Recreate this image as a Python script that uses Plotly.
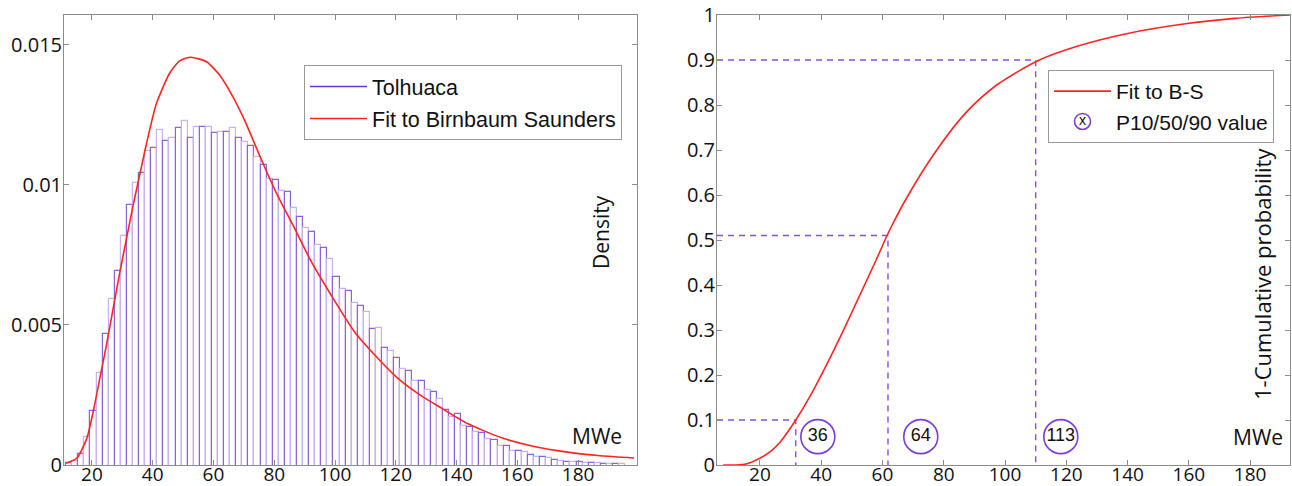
import numpy as np
import plotly.graph_objects as go

# ---------------- data ----------------
bin_width = 2.0
first_bin_center = 12.5
hist_density = [
    0.00006, 0.00014, 0.00038, 0.00099, 0.00194, 0.0033, 0.00468, 0.00592, 0.00693, 0.00818,
    0.00929, 0.01006, 0.01042, 0.01121, 0.01131, 0.01196, 0.01157, 0.01167, 0.01205, 0.0123,
    0.01167, 0.01208, 0.01208, 0.01208, 0.01185, 0.01188, 0.01188, 0.01205, 0.01167, 0.01155,
    0.0114, 0.01099, 0.01071, 0.01021, 0.01018, 0.00979, 0.00976, 0.00917, 0.00887, 0.00845,
    0.00831, 0.00786, 0.00774, 0.00736, 0.0067, 0.00629, 0.00623, 0.00577, 0.00569, 0.00548,
    0.00486, 0.0049, 0.00419, 0.00407, 0.00383, 0.00343, 0.00336, 0.003, 0.003, 0.00268,
    0.0026, 0.00237, 0.00196, 0.0017, 0.00182, 0.0014, 0.00137, 0.00118, 0.00113, 0.00092,
    0.00089, 0.00069, 0.00068, 0.00051, 0.00051, 0.00048, 0.00036, 0.0003, 0.00027, 0.00024,
    0.00018, 0.00015, 0.00012, 0.00011, 0.0001, 0.00008, 0.00007, 0.00006, 0.00005, 0.00004,
    0.00004, 0.00003,
]
bin_centers = first_bin_center + bin_width * np.arange(len(hist_density))

fit_pdf_x = [11.5, 15, 18.3, 20.4, 22.6, 24.8, 27, 29.2, 31.4, 33.6, 35.8, 38, 41.2, 45.6, 48.9,
             52.5, 57.7, 62, 66.4, 70.3, 74.6, 77.4, 81.2, 86.7, 92.2, 98.7, 106.4, 114.1, 120.6,
             127.2, 134.3, 143.6, 154.6, 165.5, 176.5, 187.4, 198.4]
fit_pdf_y = [0.00006, 0.00024, 0.00095, 0.0019, 0.0031, 0.0043, 0.0056, 0.0069, 0.0081, 0.0093,
             0.0104, 0.0115, 0.0129, 0.0140, 0.01443, 0.01456, 0.0144, 0.01393, 0.01315, 0.0123,
             0.0112, 0.0105, 0.0096, 0.00845, 0.00726, 0.00607, 0.00476, 0.00381, 0.0031,
             0.00256, 0.00208, 0.00148, 0.00098, 0.00066, 0.00046, 0.00033, 0.00025]

cdf_x = [8, 15, 20, 23.8, 26.5, 31.7, 36.3, 41.7, 47.1, 52.5, 57.9, 61.5, 63.3, 67.6, 76.7,
         87.1, 97.4, 111.2, 123.3, 140, 159.4, 175, 193]
cdf_y = [0, 0.0015, 0.015, 0.032, 0.05, 0.1, 0.152, 0.222, 0.297, 0.376, 0.455, 0.51, 0.535,
         0.59, 0.69, 0.782, 0.845, 0.9, 0.93, 0.959, 0.981, 0.9926, 1.0]

p_levels = [0.1, 0.51, 0.9]            # cumulative levels of the dashed guides
p_values_x = [31.7, 61.8, 110.0]       # where the guides meet the curve
p_labels = ["36", "64", "113"]
p_label_x = [38.9, 72.5, 118.2]
p_label_y = [0.063, 0.063, 0.063]

left_xticks = [20, 40, 60, 80, 100, 120, 140, 160, 180]
left_yticks = [0, 0.005, 0.01, 0.015]
left_yticktext = ["0", "0.005", "0.01", "0.015"]
right_xticks = [20, 40, 60, 80, 100, 120, 140, 160, 180]
right_yticks = [0, 0.1, 0.2, 0.3, 0.4, 0.5, 0.6, 0.7, 0.8, 0.9, 1]
right_yticktext = ["0", "0.1", "0.2", "0.3", "0.4", "0.5", "0.6", "0.7", "0.8", "0.9", "1"]

left_xrange = [10.8, 199.4]
left_yrange = [0, 0.01607]
right_xrange = [6, 193]
right_yrange = [0, 1]

# ---------------- styling ----------------
W, H = 1292, 486
PURPLE = "#7030E0"
GUIDE = "#8450e0"
RED = "#ff2424"
FRAME = "#8c8c8c"
TICKFONT = dict(family="Open Sans", size=20, color="#111")
XTICKFONT = dict(family="Open Sans", size=19, color="#111")
LABFONT = dict(family="Open Sans", size=21, color="#111")
BAR_BASE = -0.0001   # bar bottoms tucked under the axis so their outline is clipped


def px_x(p):
    return p / W


def px_y(p):
    return (H - p) / H


fig = go.Figure()

edge_colors = ["#8f62d8" if i % 2 == 0 else "#c9b2f0" for i in range(len(hist_density))]
fig.add_trace(go.Bar(
    x=bin_centers, y=np.array(hist_density) - BAR_BASE, base=BAR_BASE, width=bin_width,
    marker=dict(color="rgba(255,255,255,0)", line=dict(color=edge_colors, width=1.2)),
    showlegend=False, xaxis="x", yaxis="y", hoverinfo="skip",
))
fig.add_trace(go.Scatter(
    x=[None], y=[None], mode="lines", name="Tolhuaca",
    line=dict(color=PURPLE, width=1.5), xaxis="x", yaxis="y",
    legend="legend", legendgroup="a",
))
fig.add_trace(go.Scatter(
    x=fit_pdf_x, y=fit_pdf_y, mode="lines", name="Fit to Birnbaum Saunders",
    line=dict(color=RED, width=1.6, shape="spline", smoothing=0.6), xaxis="x", yaxis="y",
    legend="legend", legendgroup="b",
))

for lvl, xv in zip(p_levels, p_values_x):
    fig.add_trace(go.Scatter(
        x=[right_xrange[0], xv, xv], y=[lvl, lvl, 0], mode="lines",
        line=dict(color=GUIDE, width=1.4, dash="6px,5px"),
        showlegend=False, xaxis="x2", yaxis="y2", hoverinfo="skip",
    ))
fig.add_trace(go.Scatter(
    x=cdf_x, y=cdf_y, mode="lines", name="Fit to B-S",
    line=dict(color=RED, width=1.6, shape="spline", smoothing=0.8), xaxis="x2", yaxis="y2",
    legend="legend2", legendgroup="c",
))
fig.add_trace(go.Scatter(
    x=p_label_x, y=p_label_y, mode="markers+text", name="P10/50/90 value",
    text=p_labels, textposition="middle center",
    textfont=dict(family="Liberation Sans", size=18, color="#111"),
    marker=dict(symbol="circle-open", size=34, color="#7a3ddb", line=dict(width=1.6)),
    xaxis="x2", yaxis="y2", legend="legend2", legendgroup="d",
))

axis_common = dict(
    showline=True, linecolor=FRAME, linewidth=1, mirror="ticks",
    ticks="inside", ticklen=5, tickcolor=FRAME, tickwidth=1, layer="above traces",
    showgrid=False, zeroline=False, automargin=False,
)

fig.update_layout(
    template="none",
    width=W, height=H,
    margin=dict(l=0, r=0, t=0, b=0, pad=0, autoexpand=False),
    paper_bgcolor="white", plot_bgcolor="white",
    bargap=0,
    xaxis=dict(domain=[px_x(64), px_x(637)], range=left_xrange, anchor="y",
               tickvals=left_xticks, ticklabelstandoff=-8, tickfont=XTICKFONT, **axis_common),
    yaxis=dict(domain=[px_y(465), px_y(15)], range=left_yrange, anchor="x",
               tickvals=left_yticks, ticktext=left_yticktext, ticklabelstandoff=-3,
               tickfont=TICKFONT, **axis_common),
    xaxis2=dict(domain=[px_x(717), px_x(1290)], range=right_xrange, anchor="y2",
                tickvals=right_xticks, ticklabelstandoff=-8, tickfont=XTICKFONT,
                **axis_common),
    yaxis2=dict(domain=[px_y(465), px_y(15)], range=right_yrange, anchor="x2",
                tickvals=right_yticks, ticktext=right_yticktext, ticklabelstandoff=-3,
                tickfont=TICKFONT, **axis_common),
    legend=dict(x=px_x(304), y=px_y(65), xanchor="left", yanchor="top",
                bgcolor="white", bordercolor="#999", borderwidth=1,
                font=dict(family="Liberation Sans", size=21.5, color="#111"),
                tracegroupgap=1, traceorder="grouped", itemwidth=57),
    legend2=dict(x=px_x(1048), y=px_y(70), xanchor="left", yanchor="top",
                 bgcolor="white", bordercolor="#999", borderwidth=1,
                 font=dict(family="Liberation Sans", size=21, color="#111"),
                 tracegroupgap=0, traceorder="grouped", itemwidth=57),
    annotations=[
        dict(text="Density", x=px_x(601), y=px_y(232), xref="paper", yref="paper",
             xanchor="center", yanchor="middle",
             textangle=-90, showarrow=False, font=LABFONT),
        dict(text="MWe", x=px_x(597), y=px_y(436), xref="paper", yref="paper",
             xanchor="center", yanchor="middle", showarrow=False, font=LABFONT),
        dict(text="MWe", x=px_x(1258), y=px_y(437), xref="paper", yref="paper",
             xanchor="center", yanchor="middle", showarrow=False, font=LABFONT),
        dict(text="1-Cumulative probability", x=px_x(1262), y=px_y(274), xref="paper",
             yref="paper", xanchor="center", yanchor="middle", textangle=-90,
             showarrow=False, font=dict(family="Open Sans", size=22, color="#111")),
        dict(text="x", x=px_x(1082), y=px_y(120), xref="paper", yref="paper",
             xanchor="center", yanchor="middle", showarrow=False,
             font=dict(family="Liberation Sans", size=14, color="#111")),
    ],
)

fig.write_html("out.html", config={"displayModeBar": False},
               post_script="document.body.style.margin='0';")
